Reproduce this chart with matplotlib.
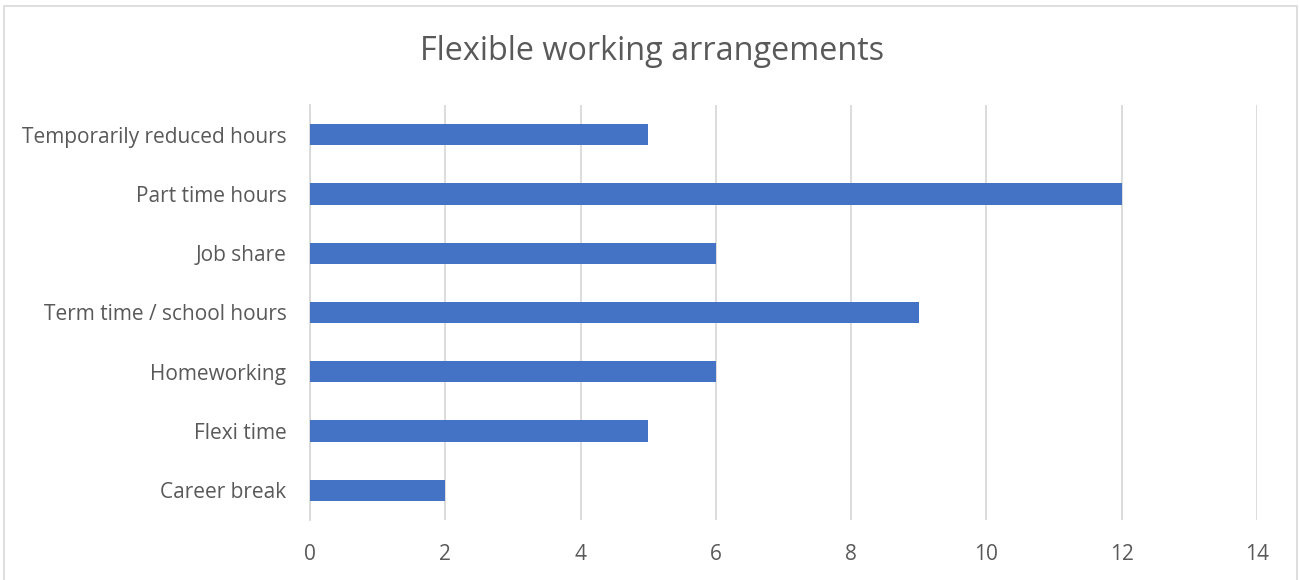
import matplotlib
matplotlib.use("Agg")
import matplotlib.pyplot as plt
from matplotlib.patches import Rectangle

categories = ["Career break", "Flexi time", "Homeworking", "Term time / school hours",
              "Job share", "Part time hours", "Temporarily reduced hours"]
values = [2, 5, 6, 9, 6, 12, 5]
xticks = [0, 2, 4, 6, 8, 10, 12, 14]

plt.rcParams['font.family'] = ['Open Sans', 'DejaVu Sans']
W, H = 1299, 580
fig = plt.figure(figsize=(W/100, H/100), dpi=100)
fig.patches.append(Rectangle((4/W, -10/H), (1297-4)/W, (574+10)/H, transform=fig.transFigure,
                             fill=False, edgecolor='#D9D9D9', linewidth=1.2))
ax = fig.add_axes([310/W, 1-520/H, (1257-310)/W, (520-105)/H])
ax.barh(range(len(categories)), values, height=0.36, color='#4472C4', zorder=3)
ax.set_ylim(-0.5, len(categories)-0.5)
ax.set_xlim(0, 14)
ax.set_xticks(xticks)
ax.set_xticklabels([str(t) for t in xticks])
ax.set_yticks(range(len(categories)))
ax.set_yticklabels(categories)
ax.grid(axis='x', color='#D9D9D9', linewidth=1.3, zorder=0)
for s in ['top', 'right', 'bottom']:
    ax.spines[s].set_visible(False)
ax.spines['left'].set_color('#D9D9D9')
ax.spines['left'].set_linewidth(1.3)
ax.tick_params(axis='both', length=0, labelsize=15, colors='#595959')
ax.tick_params(axis='x', pad=17)
ax.tick_params(axis='y', pad=17)
fig.text(652/W, 1-51/H, "Flexible working arrangements", ha='center', va='center',
         fontsize=23.3, color='#595959')
fig.savefig("out.png", dpi=100)
